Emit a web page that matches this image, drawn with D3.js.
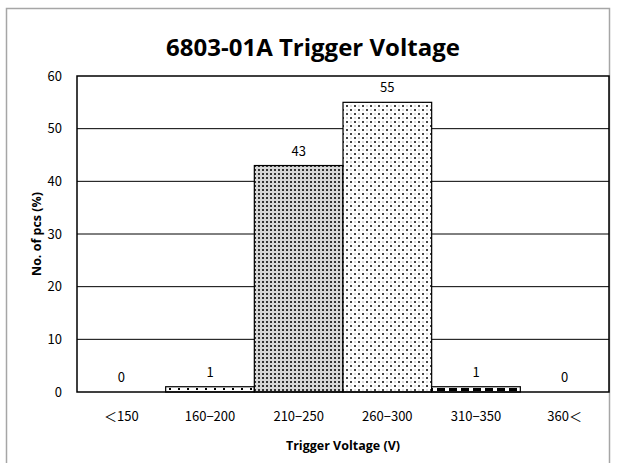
<!DOCTYPE html>
<html>
<head>
<meta charset="utf-8">
<script src="https://cdn.jsdelivr.net/npm/d3@7"></script>
<style>
  body { margin: 0; background: #fff; }
  .tick text, .lbl { font-family: "Noto Sans CJK JP", sans-serif; font-size: 13px; fill: #000; }
</style>
</head>
<body>
<svg id="chart" width="618" height="463"></svg>
<script>
var categories = ["＜150", "160−200", "210−250", "260−300", "310−350", "360＜"];
var values = [0, 1, 43, 55, 1, 0];
var yTicks = [0, 10, 20, 30, 40, 50, 60];
var fills = ["none", "url(#pSparse)", "url(#pDense)", "url(#pLight)", "url(#pDash)", "none"];

var svg = d3.select("#chart"),
    margin = {top: 76, right: 9, bottom: 71, left: 77},
    width = +svg.attr("width") - margin.left - margin.right,
    height = +svg.attr("height") - margin.top - margin.bottom;

// chart frame
svg.append("rect")
    .attr("x", 6.5).attr("y", 8.5)
    .attr("width", 603).attr("height", 470)
    .attr("fill", "#fff")
    .attr("stroke", "#a6a6a6")
    .attr("stroke-width", 1.5);

var defs = svg.append("defs");

// sparse dots (160-200)
var p1 = defs.append("pattern").attr("id", "pSparse").attr("patternUnits", "userSpaceOnUse")
    .attr("width", 9).attr("height", 5);
p1.append("rect").attr("width", 9).attr("height", 5).attr("fill", "#fff");
p1.append("rect").attr("x", 2).attr("y", 2).attr("width", 2).attr("height", 2).attr("fill", "#000");

// dense dot grid (210-250)
var p2 = defs.append("pattern").attr("id", "pDense").attr("patternUnits", "userSpaceOnUse")
    .attr("width", 4).attr("height", 4);
p2.append("rect").attr("width", 4).attr("height", 4).attr("fill", "#d8d8d8");
p2.append("rect").attr("x", 1).attr("y", 1).attr("width", 2).attr("height", 2).attr("fill", "#333");

// light sparse dots (260-300)
var p3 = defs.append("pattern").attr("id", "pLight").attr("patternUnits", "userSpaceOnUse")
    .attr("width", 8).attr("height", 8);
p3.append("rect").attr("width", 8).attr("height", 8).attr("fill", "#fff");
p3.append("rect").attr("x", 1).attr("y", 1).attr("width", 2).attr("height", 2).attr("fill", "#444");
p3.append("rect").attr("x", 5).attr("y", 5).attr("width", 2).attr("height", 2).attr("fill", "#444");
p3.append("rect").attr("x", 5).attr("y", 1).attr("width", 2).attr("height", 2).attr("fill", "#ddd");
p3.append("rect").attr("x", 1).attr("y", 5).attr("width", 2).attr("height", 2).attr("fill", "#ddd");

// dashed horizontal (310-350)
var p4 = defs.append("pattern").attr("id", "pDash").attr("patternUnits", "userSpaceOnUse")
    .attr("width", 12).attr("height", 5);
p4.append("rect").attr("width", 12).attr("height", 5).attr("fill", "#fff");
p4.append("rect").attr("x", 0).attr("y", 2).attr("width", 8).attr("height", 3).attr("fill", "#000");

var g = svg.append("g").attr("transform", "translate(" + margin.left + "," + margin.top + ")");

var x = d3.scaleBand()
    .domain(categories)
    .range([0, width])
    .padding(0);

var y = d3.scaleLinear()
    .domain([0, 60])
    .range([height, 0]);

// gridlines
g.selectAll(".grid")
    .data(yTicks.slice(1, -1))
    .enter().append("line")
      .attr("x1", 0).attr("x2", width)
      .attr("y1", function(d) { return y(d); })
      .attr("y2", function(d) { return y(d); })
      .attr("stroke", "#000")
      .attr("stroke-width", 1);

// bars
g.selectAll(".bar")
    .data(values)
    .enter().append("rect")
      .attr("x", function(d, i) { return x(categories[i]); })
      .attr("y", function(d) { return y(d); })
      .attr("width", x.bandwidth())
      .attr("height", function(d) { return height - y(d); })
      .attr("fill", function(d, i) { return fills[i]; })
      .attr("stroke", function(d) { return d > 0 ? "#000" : "none"; })
      .attr("stroke-width", 1.2);

// value labels
g.selectAll(".lbl")
    .data(values)
    .enter().append("text")
      .attr("class", "lbl")
      .attr("x", function(d, i) { return x(categories[i]) + x.bandwidth() / 2; })
      .attr("y", function(d) { return y(d) - 10; })
      .attr("text-anchor", "middle")
      .text(function(d) { return d; });

// plot border
g.append("rect")
    .attr("width", width).attr("height", height)
    .attr("fill", "none")
    .attr("stroke", "#000")
    .attr("stroke-width", 1.5);

// axes
g.append("g")
    .attr("transform", "translate(0," + height + ")")
    .call(d3.axisBottom(x).tickSize(0).tickPadding(20))
    .call(function(a) { a.select(".domain").remove(); });

g.append("g")
    .call(d3.axisLeft(y).tickValues(yTicks).tickSize(0).tickPadding(15))
    .call(function(a) { a.select(".domain").remove(); });

// titles
svg.append("text")
    .attr("x", 313).attr("y", 56)
    .attr("text-anchor", "middle")
    .style("font-family", "'Open Sans', sans-serif")
    .style("font-weight", "bold")
    .style("font-size", "24px")
    .text("6803-01A Trigger Voltage");

svg.append("text")
    .attr("x", margin.left + width / 2).attr("y", 450)
    .attr("text-anchor", "middle")
    .style("font-family", "'Open Sans', sans-serif")
    .style("font-weight", "bold")
    .style("font-size", "12.5px")
    .text("Trigger Voltage (V)");

svg.append("text")
    .attr("transform", "translate(41," + (margin.top + height / 2) + ") rotate(-90)")
    .attr("text-anchor", "middle")
    .style("font-family", "'Open Sans', sans-serif")
    .style("font-weight", "bold")
    .style("font-size", "12.5px")
    .text("No. of pcs (%)");
</script>
</body>
</html>
